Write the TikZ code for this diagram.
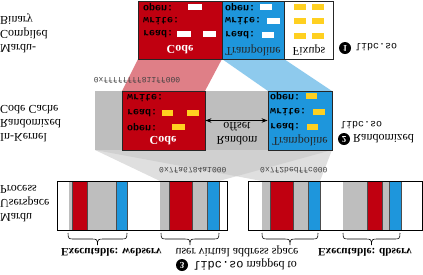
\documentclass[tikz,border=0pt]{standalone}
\usepackage{fontspec}
\setmainfont{Liberation Serif}
\setmonofont{Liberation Mono}
\usetikzlibrary{arrows.meta, positioning}

\definecolor{mred}{RGB}{192,0,16}
\definecolor{mblue}{RGB}{30,150,220}
\definecolor{myel}{RGB}{255,208,32}
\definecolor{mgray}{RGB}{190,190,190}
\definecolor{mwedge}{RGB}{196,196,196}

% curly brace under a bar: from x1 to x2, top at y
\newcommand{\procbrace}[3]{%
  \draw[brc] (#1,#3) .. controls (#1,#3+6) and (#1+1,#3+6) .. (#1+6,#3+6)
    -- (#1/2+#2/2-6,#3+6) .. controls (#1/2+#2/2-1,#3+6) and (#1/2+#2/2,#3+6) .. (#1/2+#2/2,#3+12)
    .. controls (#1/2+#2/2,#3+6) and (#1/2+#2/2+1,#3+6) .. (#1/2+#2/2+6,#3+6)
    -- (#2-6,#3+6) .. controls (#2-1,#3+6) and (#2,#3+6) .. (#2,#3);}

\begin{document}
\begin{tikzpicture}[
  x=1pt, y=1pt, yscale=-1,
  every node/.append style={transform shape},
  lbl/.style={font=\fontsize{12}{14}\selectfont, align=left, inner sep=0pt},
  fn/.style={font=\fontsize{10}{12}\selectfont\ttfamily\bfseries, anchor=west, inner sep=0pt},
  addr/.style={font=\fontsize{8}{10}\selectfont\ttfamily, text=black!75, inner sep=0pt},
  box/.style={draw=black!85, line width=0.8pt, inner sep=0pt},
  numdot/.style={circle, fill=black, text=white, font=\fontsize{9}{9}\selectfont\bfseries, inner sep=0pt, minimum size=12pt},
  brc/.style={line width=0.6pt},
  arr/.style={{Stealth[length=6pt]}-{Stealth[length=6pt]}, line width=1.2pt}
]
  \useasboundingbox (0,0) rectangle (423,274);

  % mapping shades
  \fill[mwedge, fill opacity=.55] (95,150) -- (332,150) -- (219,181) -- (160,181) -- cycle;
  \fill[mwedge, fill opacity=.55] (95,150) -- (332,150) -- (320,181) -- (262,181) -- cycle;
  \fill[mred, fill opacity=.5] (138,59) -- (222,59) -- (205,91) -- (122,91) -- cycle;
  \fill[mblue, fill opacity=.5] (222,59) -- (284,59) -- (332,91) -- (268,91) -- cycle;

  % row labels
  \node[lbl, anchor=west] (binlbl) at (0,33) {Mardu-\\Compiled\\Binary};
  \node[lbl, anchor=west] (cachelbl) at (0,124) {In-Kernel\\Randomized\\Code Cache};
  \node[lbl, anchor=west] (proclbl) at (0,204) {Mardu\\Userspace\\Process};

  % compiled binary
  \node[box, fill=mred, minimum width=84pt, minimum height=58pt] (tcode) at (180,30) {};
  \node[box, fill=mblue, minimum width=62pt, minimum height=58pt] (ttramp) at (253,30) {};
  \node[box, fill=white, minimum width=49pt, minimum height=58pt] (tfix) at (308.5,30) {};
  \node[fn] at (143,7) {open:};
  \node[fn] at (143,21) {write:};
  \node[fn] at (143,34) {read:};
  \fill[white] (188,4) rectangle (202,10);
  \fill[white] (177,31) rectangle (191,37);
  \fill[white] (203,31) rectangle (216,37);
  \node[lbl, font=\fontsize{12}{14}\selectfont\bfseries, text=white] (tcodelbl) at (180,50) {Code};
  \node[fn] at (225,7) {open:};
  \node[fn] at (225,21) {write:};
  \node[fn] at (225,35) {read:};
  \fill[white] (260,4) rectangle (272,10);
  \fill[white] (267,18) rectangle (280,24);
  \fill[white] (262,32) rectangle (274,38);
  \node[lbl, text=black!85] (ttramplbl) at (253,50) {Trampoline};
  \foreach \y in {4,18,33}
    \foreach \x in {294,312}
      \fill[myel] (\x,\y) rectangle ++(12,6);
  \node[lbl] (tfixlbl) at (309,50) {Fixups};
  \node[numdot] (n1) at (345,48) {1};
  \node[font=\fontsize{10}{12}\selectfont\ttfamily, anchor=west, inner sep=0pt] (lib1) at (355,47) {libc.so};

  \node[addr] (a1) at (137,80) {0xffffffff811ff000};

  % randomized code cache
  \fill[mgray] (95,91) rectangle (268,150);
  \node[box, fill=mred, minimum width=83pt, minimum height=59pt] (kcode) at (163.5,120.5) {};
  \node[box, fill=mblue, minimum width=64pt, minimum height=59pt] (ktramp) at (300,120.5) {};
  \node[fn] at (127,98) {write:};
  \node[fn] at (127,113) {read:};
  \node[fn] at (127,127) {open:};
  \fill[myel] (162,110) rectangle (173,116);
  \fill[myel] (187,110) rectangle (199,116);
  \fill[myel] (172,124) rectangle (185,130);
  \node[lbl, font=\fontsize{12}{14}\selectfont\bfseries, text=white] (kcodelbl) at (163,141) {Code};
  \node[fn] at (270,96) {open:};
  \node[fn] at (270,112) {write:};
  \node[fn] at (270,127) {read:};
  \fill[myel] (306,93) rectangle (317,99);
  \fill[myel] (313,109) rectangle (325,115);
  \fill[myel] (307,124) rectangle (318,130);
  \node[lbl, text=black!85] (ktramplbl) at (300,140) {Trampoline};
  \draw[arr] (kcode.east) -- (ktramp.west);
  \node[lbl, align=center] (offlbl) at (237,134) {Random\\offset};
  \node[numdot] (n2) at (344,139) {2};
  \node[lbl, anchor=west] (randlbl) at (353,139) {Randomized};
  \node[font=\fontsize{10}{12}\selectfont\ttfamily, anchor=west, inner sep=0pt] (lib2) at (340,125) {libc.so};

  % userspace processes
  \node[addr, anchor=west] (a2) at (159,170) {0x7fa6784a1000};
  \node[addr, anchor=west] (a3) at (260,170) {0x7f2bedffc000};
  \fill[mgray] (69,181) rectangle (72,230);
  \fill[mgray] (87,181) rectangle (116,230);
  \fill[mgray] (160,181) rectangle (169,230);
  \fill[mgray] (192,181) rectangle (207,230);
  \fill[mgray] (262,181) rectangle (270,230);
  \fill[mgray] (293,181) rectangle (308,230);
  \fill[mgray] (343,181) rectangle (367,230);
  \fill[mgray] (382,181) rectangle (389,230);
  \filldraw[fill=mred, draw=black!70, line width=0.4pt] (72,181) rectangle (87,230);
  \filldraw[fill=mred, draw=black!70, line width=0.4pt] (169,181) rectangle (192,230);
  \filldraw[fill=mred, draw=black!70, line width=0.4pt] (270,181) rectangle (293,230);
  \filldraw[fill=mred, draw=black!70, line width=0.4pt] (367,181) rectangle (382,230);
  \filldraw[fill=mblue, draw=black!70, line width=0.4pt] (116,181) rectangle (127,230);
  \filldraw[fill=mblue, draw=black!70, line width=0.4pt] (207,181) rectangle (219,230);
  \filldraw[fill=mblue, draw=black!70, line width=0.4pt] (308,181) rectangle (320,230);
  \filldraw[fill=mblue, draw=black!70, line width=0.4pt] (389,181) rectangle (401,230);
  \draw[line width=0.8pt] (57,181) rectangle (227,230);
  \draw[line width=0.8pt] (248,181) rectangle (422,230);

  \procbrace{68}{127}{233}
  \procbrace{161}{219}{233}
  \procbrace{262}{318}{233}
  \procbrace{343}{400}{233}
  \node[lbl, anchor=west, font=\fontsize{11.3}{14}\selectfont\bfseries] (web) at (61,252) {Executable: webserv};
  \node[lbl, anchor=west, font=\fontsize{11.3}{14}\selectfont\bfseries] (db) at (318,252) {Executable: dbserv};
  \node[lbl] (uvas) at (237,251) {user virtual address space};
  \node[numdot] (n3) at (182,265) {3};
  \node[lbl, anchor=west] (mapped) at (193,265) {\texttt{libc.so} mapped to};
\end{tikzpicture}
\end{document}
